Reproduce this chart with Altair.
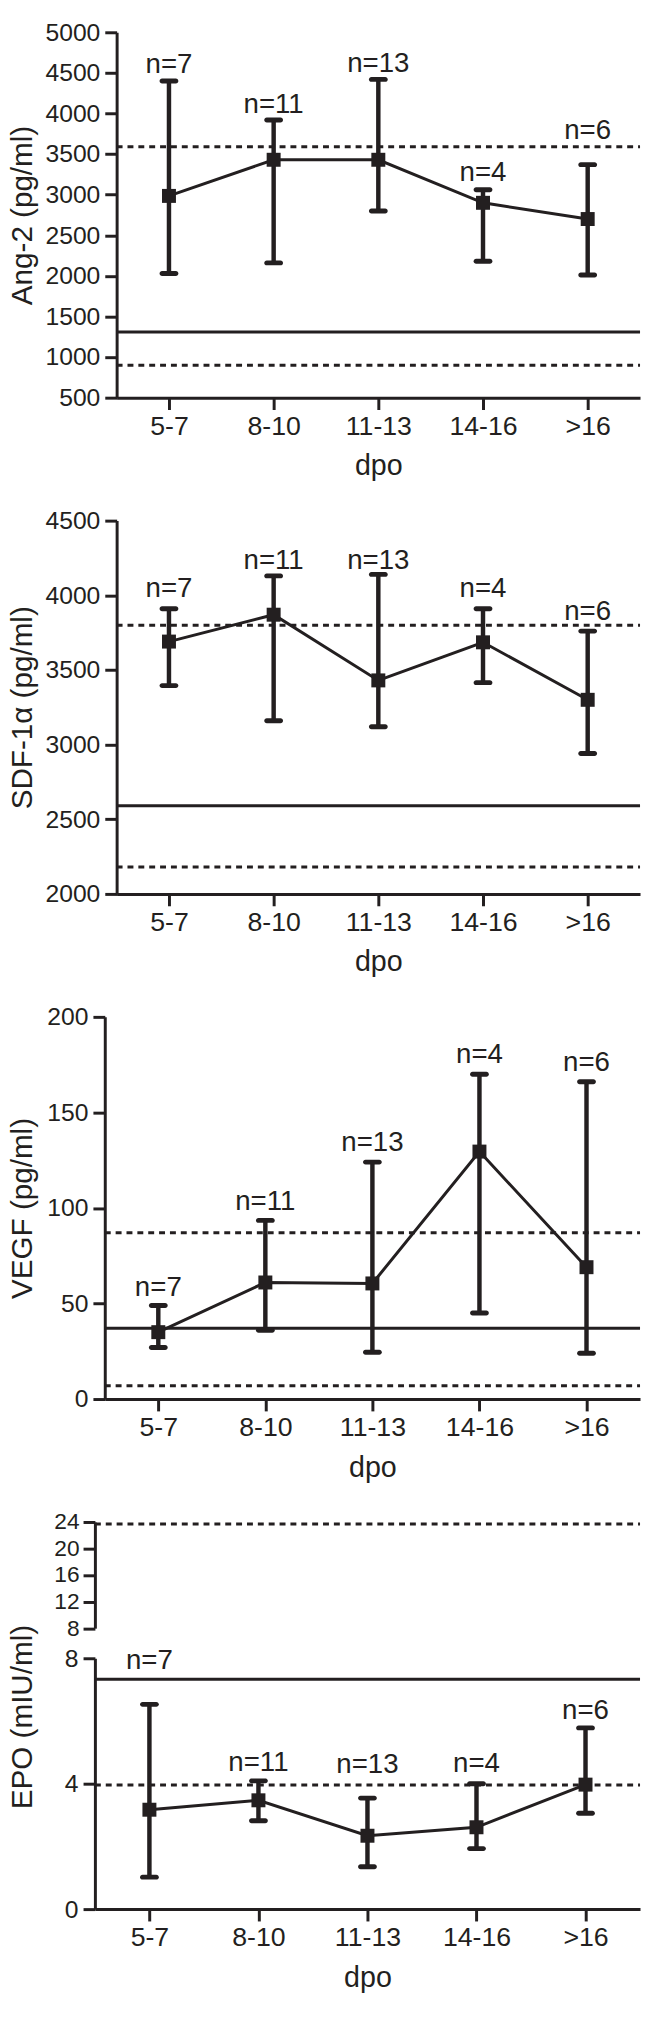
import altair as alt
import pandas as pd

cats = ["5-7", "8-10", "11-13", "14-16", ">16"]
n_text = ["n=7", "n=11", "n=13", "n=4", "n=6"]

# Ang-2 (pg/ml)
ang_mean = [2985, 3430, 3430, 2900, 2700]
ang_upper = [4400, 3920, 4420, 3060, 3370]
ang_lower = [2030, 2160, 2800, 2180, 2010]
ang_label = [4590, 4100, 4610, 3260, 3780]
ang_ref_solid = [1310]
ang_ref_dashed = [3590, 900]
ang_ticks = [500, 1000, 1500, 2000, 2500, 3000, 3500, 4000, 4500, 5000]

# SDF-1alpha (pg/ml)
sdf_mean = [3690, 3870, 3430, 3685, 3300]
sdf_upper = [3910, 4130, 4140, 3910, 3760]
sdf_lower = [3395, 3160, 3120, 3415, 2940]
sdf_label = [4040, 4230, 4230, 4040, 3890]
sdf_ref_solid = [2590]
sdf_ref_dashed = [3800, 2180]
sdf_ticks = [2000, 2500, 3000, 3500, 4000, 4500]

# VEGF (pg/ml)
vegf_mean = [35, 61, 60.5, 129.5, 69]
vegf_upper = [49, 93.5, 124, 170, 166]
vegf_lower = [27, 36, 24.5, 45, 24]
vegf_label = [58, 103, 134, 180, 176]
vegf_ref_solid = [37]
vegf_ref_dashed = [87, 7]
vegf_ticks = [0, 50, 100, 150, 200]

# EPO (mIU/ml), broken axis: 0-8 below, 8-24 above
epo_mean = [3.17, 3.47, 2.34, 2.61, 3.97]
epo_upper = [6.53, 4.09, 3.54, 4.0, 5.78]
epo_lower = [1.02, 2.82, 1.35, 1.93, 3.06]
epo_label = [7.9, 4.65, 4.58, 4.63, 6.3]
epo_ref_solid = [7.33]
epo_ref_dashed = [3.96]
epo_ref_dashed_high = [23.7]
epo_ticks_low = [0, 4, 8]
epo_ticks_high = [8, 12, 16, 20, 24]

INK = "#231f20"
FONT = "Liberation Sans"
W = 552


def panel_layers(mean, upper, lower, lab, ref_solid, ref_dashed, yscale,
                 yticks, title, xoff, title_x, title_y=None):
    df = pd.DataFrame({"dpo": cats, "mean": mean, "upper": upper,
                       "lower": lower, "lab": lab, "n": n_text})
    xscale = alt.Scale(type="point", domain=cats, range=[xoff, W], padding=0.5)
    xaxis = alt.Axis(title="dpo", labelAngle=0, labelFontSize=27,
                     labelPadding=4, tickSize=12, tickWidth=3,
                     domainWidth=3, titleFontSize=29, titlePadding=13,
                     titleFontWeight="normal", grid=False)
    ax_kw = dict(values=yticks, format="d", offset=-xoff, tickSize=12,
                 tickWidth=3, domainWidth=3, labelFontSize=25, labelPadding=5,
                 grid=False, title=title, titleFontSize=30, orient="left",
                 titleFontWeight="normal", titleX=title_x,
                 titleBaseline="alphabetic")
    if title_y is not None:
        ax_kw["titleY"] = title_y
    yaxis = alt.Axis(**ax_kw)

    def X():
        return alt.X("dpo:N", sort=cats, scale=xscale, axis=xaxis)

    def Y(field):
        return alt.Y(field + ":Q", scale=yscale, axis=yaxis)

    base = alt.Chart(df)
    layers = []
    sdf = pd.DataFrame({"v": ref_solid})
    layers.append(alt.Chart(sdf).mark_rule(color=INK, strokeWidth=3).encode(
        y=Y("v"), x=alt.value(xoff), x2=alt.value(W)))
    ddf = pd.DataFrame({"v": ref_dashed})
    layers.append(alt.Chart(ddf).mark_rule(color=INK, strokeWidth=3,
                                           strokeDash=[6, 5]).encode(
        y=Y("v"), x=alt.value(xoff), x2=alt.value(W)))
    layers.append(base.mark_rule(color=INK, strokeWidth=4.5).encode(
        x=X(), y=Y("lower"), y2="upper:Q"))
    layers.append(base.mark_tick(color=INK, size=19, thickness=5,
                                 cornerRadius=2.5, opacity=1).encode(
        x=X(), y=Y("upper")))
    layers.append(base.mark_tick(color=INK, size=19, thickness=5,
                                 cornerRadius=2.5, opacity=1).encode(
        x=X(), y=Y("lower")))
    layers.append(base.mark_line(color=INK, strokeWidth=3).encode(
        x=X(), y=Y("mean")))
    layers.append(base.mark_square(color=INK, size=200, opacity=1).encode(
        x=X(), y=Y("mean")))
    layers.append(base.mark_text(color=INK, fontSize=28, font=FONT,
                                 baseline="middle").encode(
        x=X(), y=Y("lab"), text="n:N"))
    return layers


def lin(dom):
    return alt.Scale(domain=dom, nice=False, zero=False)


p1 = alt.layer(*panel_layers(ang_mean, ang_upper, ang_lower, ang_label,
                             ang_ref_solid, ang_ref_dashed, lin([500, 5000]),
                             ang_ticks, "Ang-2 (pg/ml)", 22, -86)
               ).properties(width=W, height=370)
p2 = alt.layer(*panel_layers(sdf_mean, sdf_upper, sdf_lower, sdf_label,
                             sdf_ref_solid, sdf_ref_dashed, lin([2000, 4500]),
                             sdf_ticks, "SDF-1α (pg/ml)", 22, -86)
               ).properties(width=W, height=378)
p3 = alt.layer(*panel_layers(vegf_mean, vegf_upper, vegf_lower, vegf_label,
                             vegf_ref_solid, vegf_ref_dashed, lin([0, 200]),
                             vegf_ticks, "VEGF (pg/ml)", 10, -74)
               ).properties(width=W, height=387)

# EPO: lower segment (0-8) and upper segment (8-24) share one panel
H4 = 392
low_scale = alt.Scale(domain=[0, 8], range=[H4, 138], nice=False, zero=False)
epo_low = alt.layer(*panel_layers(epo_mean, epo_upper, epo_lower, epo_label,
                                  epo_ref_solid, epo_ref_dashed, low_scale,
                                  epo_ticks_low, "EPO (mIU/ml)", 0, -64,
                                  title_y=197))
up_df = pd.DataFrame({"v": epo_ref_dashed_high})
up_axis = alt.Axis(values=epo_ticks_high, format="d", tickSize=12,
                   tickWidth=3, domainWidth=3, labelFontSize=23,
                   labelPadding=4, grid=False, title=None, orient="left")
epo_up = alt.Chart(up_df).mark_rule(color=INK, strokeWidth=3,
                                    strokeDash=[6, 5]).encode(
    y=alt.Y("v:Q", scale=alt.Scale(domain=[8, 24], range=[107.5, 0],
                                   nice=False, zero=False), axis=up_axis),
    x=alt.value(0), x2=alt.value(W))
p4 = alt.layer(epo_low, epo_up).resolve_scale(y="independent").properties(
    width=W, height=H4)

chart = alt.vconcat(p1, p2, p3, p4, spacing=124.5, bounds="flush").properties(
    padding=0, background="white"
).configure_view(stroke=None).configure_axis(
    labelFont=FONT, titleFont=FONT, labelColor=INK, titleColor=INK,
    domainColor=INK, tickColor=INK
).configure_text(font=FONT)

chart.save("out.html", embed_options={"renderer": "svg", "actions": False})
